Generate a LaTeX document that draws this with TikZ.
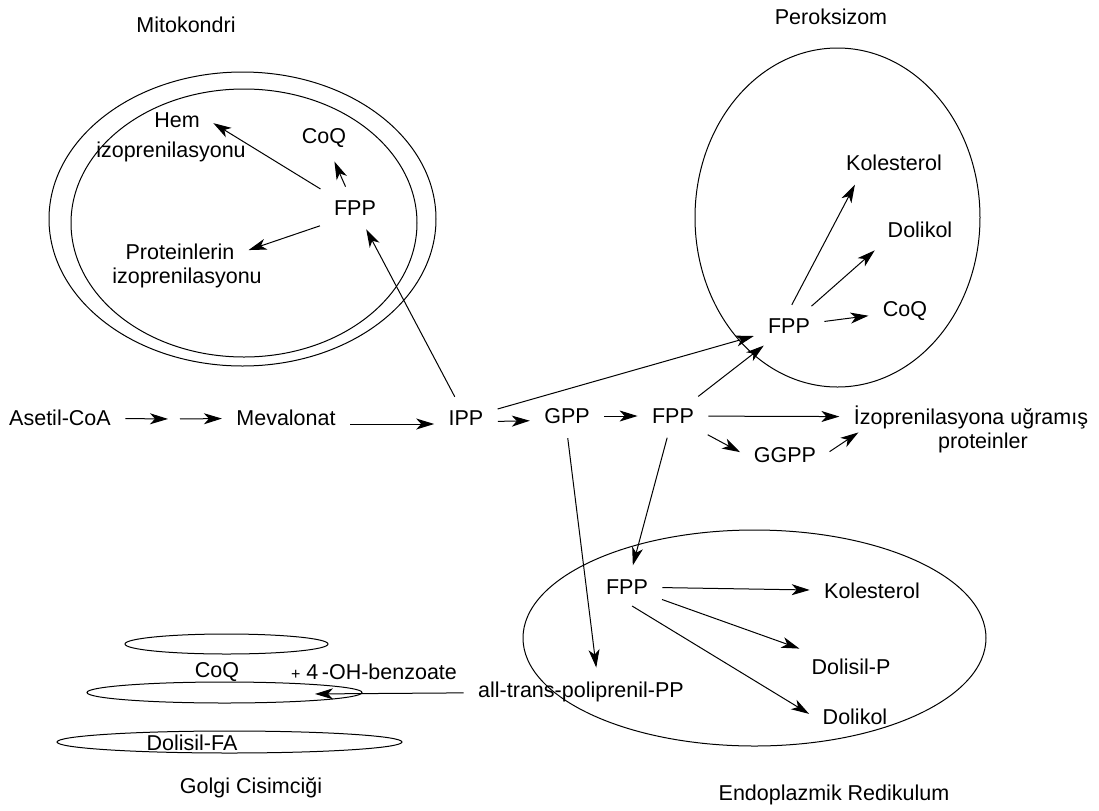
\documentclass[tikz,border=0pt]{standalone}
\usepackage{fontspec}
\setmainfont{Liberation Sans}
\usetikzlibrary{arrows.meta}

\begin{document}
\begin{tikzpicture}[x=0.5pt, y=-0.5pt, line width=0.5pt,
  every node/.style={inner sep=4pt, font=\fontsize{10.75pt}{13pt}\selectfont},
  arr/.style={-{Stealth[length=9pt, width=5.5pt, inset=2.5pt]}, shorten >=3pt, shorten <=3pt}]
  \useasboundingbox (0, 0) rectangle (1099, 810);

  % organelles
  \draw (242.5, 219) ellipse (193.5 and 147);
  \draw (244, 223) ellipse (173 and 134);
  \draw (837.5, 217.5) ellipse (142.5 and 169.5);
  \draw (754.5, 638) ellipse (231.5 and 108);
  \draw (226.5, 644) ellipse (101.5 and 10);
  \draw (224.5, 692.5) ellipse (137.5 and 10.5);
  \draw (229.5, 742) ellipse (172.5 and 11);

  \node (mitolbl) at (186, 25) {Mitokondri};
  \node (peroklbl) at (831, 17) {Peroksizom};
  \node (golgilbl) at (251, 788) {Golgi Cisimciği};
  \node (erlbl) at (834, 795) {Endoplazmik Redikulum};

  % main pathway
  \node (asetil) at (60, 418) {Asetil-CoA};
  \coordinate (step) at (174, 419);
  \node (meva) at (286, 418) {Mevalonat};
  \node (ipp) at (466, 418) {IPP};
  \node (gpp) at (567, 416) {GPP};
  \node (fpp) at (673, 416) {FPP};
  \node (ggpp) at (785, 455) {GGPP};
  \node (izo) at (971, 417) {İzoprenilasyona uğramış};
  \node (izop) at (983, 443) {proteinler};

  % mitokondri
  \node (fppm) at (355, 208) {FPP};
  \node (coqm) at (324, 138) {CoQ};
  \node (hem) at (177, 120) {Hem};
  \node (hemizo) at (171, 152) {izoprenilasyonu};
  \node (prot) at (180, 252) {Proteinlerin};
  \node (protizo) at (187, 278) {izoprenilasyonu};

  % peroksizom
  \node (fppp) at (789, 326) {FPP};
  \node (coqp) at (905, 311) {CoQ};
  \node (kolp) at (894, 163) {Kolesterol};
  \node (dolp) at (920, 230) {Dolikol};

  % ER
  \node (fppe) at (627, 587) {FPP};
  \node (kole) at (872, 591) {Kolesterol};
  \node (dolisilp) at (851, 667) {Dolisil-P};
  \node (dole) at (855, 717) {Dolikol};
  \node (allt) at (581, 692) {all-trans-poliprenil-PP};

  % golgi
  \node (coqg) at (217, 672) {CoQ};
  \node (benz) at (374, 672) {{\footnotesize+}~4\,-OH-benzoate};
  \node (dolfa) at (192, 743) {Dolisil-FA};
  \coordinate (golgitip) at (309, 694);

  \draw[arr] (asetil) -- (step);
  \draw[arr] (step) -- (meva);
  \draw[arr, transform canvas={yshift=-3pt}] (meva) -- (ipp);
  \draw[arr, transform canvas={yshift=-2pt}] (ipp) -- (gpp);
  \draw[arr] (gpp) -- (fpp);
  \draw[arr] (fpp) -- (izo);
  \draw[arr] (fpp.south east) -- (ggpp.west);
  \draw[arr] (ggpp.east) -- ([xshift=9pt, yshift=4pt]izo.south west);
  \draw[arr] (ipp) -- (fppm);
  \draw[arr] (ipp) -- (fppp);
  \draw[arr] (fpp) -- (fppp);
  \draw[arr] (fpp) -- (fppe);
  \draw[arr] (gpp.south) -- ([xshift=8pt]allt.north);
  \draw[arr] (fppm.north west) -- (hem.east);
  \draw[arr] (fppm) -- (coqm);
  \draw[arr] (fppm.south west) -- (prot.east);
  \draw[arr] (fppp.north) -- ([xshift=10pt]kolp.south west);
  \draw[arr] (fppp) -- (dolp.south west);
  \draw[arr] (fppp) -- (coqp);
  \draw[arr] (fppe) -- (kole);
  \draw[arr] (fppe) -- (dolisilp);
  \draw[arr] (fppe.south) -- (dole.west);
  \draw[arr] (allt) -- (golgitip);
\end{tikzpicture}
\end{document}
